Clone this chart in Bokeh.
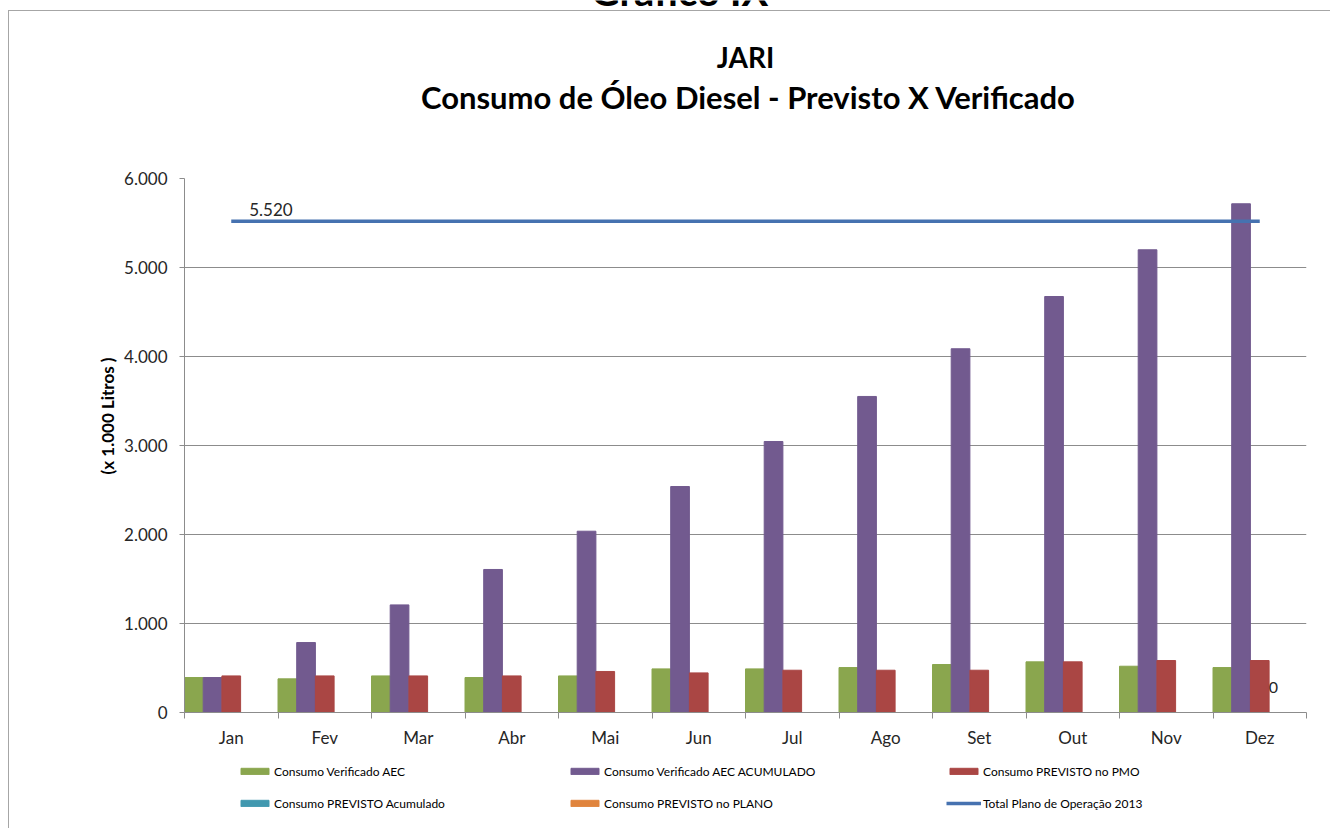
from bokeh.plotting import figure
from bokeh.models import ColumnDataSource, FixedTicker, Legend, LegendItem, Title, Label
from bokeh.layouts import column
from bokeh.transform import dodge
from bokeh.core.properties import value
from bokeh.embed import file_html
from bokeh.resources import INLINE

# ---------------- data ----------------
months = ["Jan", "Fev", "Mar", "Abr", "Mai", "Jun", "Jul", "Ago", "Set", "Out", "Nov", "Dez"]
verificado_aec = [393, 378, 411, 393, 411, 490, 490, 505, 539, 569, 520, 505]
verificado_acumulado = [393, 786, 1209, 1607, 2037, 2539, 3045, 3551, 4087, 4674, 5199, 5716]
previsto_pmo = [411, 411, 411, 411, 461, 445, 475, 475, 475, 569, 584, 584]
previsto_acumulado = [0, 0, 0, 0, 0, 0, 0, 0, 0, 0, 0, 0]
previsto_plano = [0, 0, 0, 0, 0, 0, 0, 0, 0, 0, 0, 0]
total_plano_2013 = [5520] * 12
y_ticks = [0, 1000, 2000, 3000, 4000, 5000, 6000]
y_tick_labels = ["0", "1.000", "2.000", "3.000", "4.000", "5.000", "6.000"]

page_title = "Gráfico IX"
title_1 = "JARI"
title_2 = "Consumo de Óleo Diesel - Previsto X Verificado"
y_label = "(x 1.000 Litros )"
legend_labels = ["Consumo Verificado AEC", "Consumo Verificado AEC ACUMULADO",
                 "Consumo PREVISTO no PMO", "Consumo PREVISTO Acumulado",
                 "Consumo PREVISTO no PLANO", "Total Plano de Operação 2013"]

FONT = "Lato"
GREEN = "#8aa64e"
PURPLE = "#725a8f"
RED = "#aa4644"
TEAL = "#4198af"
ORANGE = "#e0843d"
BLUE = "#4672b0"
GRID = "#8c8c8c"
TXT = "#262626"
BORDER = "#a6a6a6"

centers = [i + 0.5 for i in range(len(months))]
src = ColumnDataSource(dict(
    x=centers, month=months,
    ver=verificado_aec, acum=verificado_acumulado, pmo=previsto_pmo,
    pacum=previsto_acumulado, plano=previsto_plano, total=total_plano_2013,
))

W = 1330
LEFT_LINE = f"linear-gradient({BORDER},{BORDER}) 8px 0 / 1px 100% no-repeat"

def blank_fig(height):
    f = figure(width=W, height=height, x_range=(0, 1), y_range=(0, 1),
               output_backend="svg", toolbar_location=None,
               min_border_left=0, min_border_right=0, min_border_top=0, min_border_bottom=0)
    f.axis.visible = False
    f.grid.visible = False
    f.outline_line_color = None
    f.background_fill_alpha = 0
    f.border_fill_alpha = 0
    return f

# ---------------- title strip ----------------
tf = blank_fig(150)
tf.styles = {"background": (f"linear-gradient({BORDER},{BORDER}) 8px 10px / 1px 100% no-repeat, "
                            f"linear-gradient({BORDER},{BORDER}) 8px 10px / 100% 1px no-repeat, white")}
tf.add_layout(Label(x=495, y=160, x_units="screen", y_units="screen", text=page_title,
                    text_align="center", text_baseline="alphabetic", text_font=FONT,
                    text_font_style="bold", text_font_size="40px", text_color="black"))
tf.add_layout(Label(x=561, y=94, x_units="screen", y_units="screen", text=title_1,
                    text_align="center", text_baseline="middle", text_font=FONT,
                    text_font_style="bold", text_font_size="28px", text_color="black"))
tf.add_layout(Label(x=564, y=54, x_units="screen", y_units="screen", text=title_2,
                    text_align="center", text_baseline="middle", text_font=FONT,
                    text_font_style="bold", text_font_size="31px", text_color="black"))

# ---------------- main chart ----------------
p = figure(width=W, height=602, x_range=(0, len(months)), y_range=(0, 6000),
           output_backend="svg", toolbar_location=None,
           min_border_left=184, min_border_right=24, min_border_top=28, min_border_bottom=40)
p.background_fill_color = "white"
p.border_fill_alpha = 0
p.outline_line_color = None
p.styles = {"background": f"{LEFT_LINE}, white"}

bw = 0.2
r_ver = p.vbar(x=dodge("x", -0.4, range=p.x_range), top="ver", width=bw, source=src,
               fill_color=GREEN, line_color=GREEN)
r_acum = p.vbar(x=dodge("x", -0.2, range=p.x_range), top="acum", width=bw, source=src,
                fill_color=PURPLE, line_color=PURPLE)
r_pmo = p.vbar(x=dodge("x", 0.0, range=p.x_range), top="pmo", width=bw, source=src,
               fill_color=RED, line_color=RED)
r_pacum = p.vbar(x=dodge("x", 0.2, range=p.x_range), top="pacum", width=bw, source=src,
                 fill_color=TEAL, line_color=None)
r_plano = p.vbar(x=dodge("x", 0.4, range=p.x_range), top="plano", width=bw, source=src,
                 fill_color=ORANGE, line_color=None)
r_total = p.line(x="x", y="total", source=src, line_color=BLUE, line_width=3.5)

p.text(x=[centers[0]], y=[total_plano_2013[0]], text=["5.520"],
       x_offset=18, y_offset=-12, text_align="left", text_baseline="middle",
       text_font=value(FONT), text_font_size="17px", text_color=TXT)
p.text(x=[centers[-1]], y=[previsto_acumulado[-1]], text=[str(previsto_acumulado[-1])],
       x_offset=9, y_offset=-25, text_align="left", text_baseline="middle",
       text_font=value(FONT), text_font_size="16px", text_color=TXT)

p.xgrid.visible = False
p.ygrid.ticker = FixedTicker(ticks=y_ticks)
p.ygrid.grid_line_color = GRID
p.ygrid.grid_line_width = 1

ya = p.yaxis[0]
ya.ticker = FixedTicker(ticks=y_ticks)
ya.major_label_overrides = {t: l for t, l in zip(y_ticks, y_tick_labels)}
ya.axis_line_color = GRID
ya.major_tick_line_color = GRID
ya.major_tick_out = 5
ya.major_tick_in = 0
ya.minor_tick_line_color = None
ya.major_label_standoff = 12
ya.major_label_text_font = FONT
ya.major_label_text_font_size = "17px"
ya.major_label_text_color = TXT

xa = p.xaxis[0]
xa.ticker = FixedTicker(ticks=centers, minor_ticks=list(range(len(months) + 1)))
xa.major_label_overrides = {c: m for c, m in zip(centers, months)}
xa.axis_line_color = GRID
xa.major_tick_line_color = None
xa.major_tick_out = 0
xa.major_tick_in = 0
xa.minor_tick_line_color = GRID
xa.minor_tick_out = 6
xa.minor_tick_in = 0
xa.major_label_standoff = 8
xa.major_label_text_font = FONT
xa.major_label_text_font_size = "17px"
xa.major_label_text_color = TXT

p.add_layout(Title(text=y_label, align="right", text_font=FONT, text_font_style="bold",
                   text_font_size="17px", text_color="black", standoff=8, offset=179), "left")

# ---------------- legend strip ----------------
lf = blank_fig(76)
lf.styles = {"background": f"{LEFT_LINE}, white"}
# hidden proxy renderers (same data) that only provide the legend swatches
proxies = [
    lf.vbar(x="x", top="ver", width=bw, source=src, fill_color=GREEN, line_color=GREEN),
    lf.vbar(x="x", top="acum", width=bw, source=src, fill_color=PURPLE, line_color=PURPLE),
    lf.vbar(x="x", top="pmo", width=bw, source=src, fill_color=RED, line_color=RED),
    lf.vbar(x="x", top="pacum", width=bw, source=src, fill_color=TEAL, line_color=TEAL),
    lf.vbar(x="x", top="plano", width=bw, source=src, fill_color=ORANGE, line_color=ORANGE),
    lf.line(x="x", y="total", source=src, line_color=BLUE, line_width=3.5),
]
for r in proxies:
    r.visible = False

def make_legend(idx, x):
    lg = Legend(items=[LegendItem(label=legend_labels[i], renderers=[proxies[i]]) for i in idx],
                location=(x, 15), orientation="vertical",
                glyph_width=35, glyph_height=8, label_standoff=2, label_height=20,
                spacing=12, padding=0, margin=0, border_line_color=None,
                background_fill_alpha=0, inactive_fill_alpha=0, label_text_font=FONT,
                label_text_font_size="12px", label_text_color="black")
    lf.add_layout(lg, "center")

make_legend([0, 3], 53)
make_legend([1, 4], 383)
make_legend([2, 5], 762)

layout = column(tf, p, lf, spacing=0)
open("out.html", "w").write(file_html(layout, INLINE))
